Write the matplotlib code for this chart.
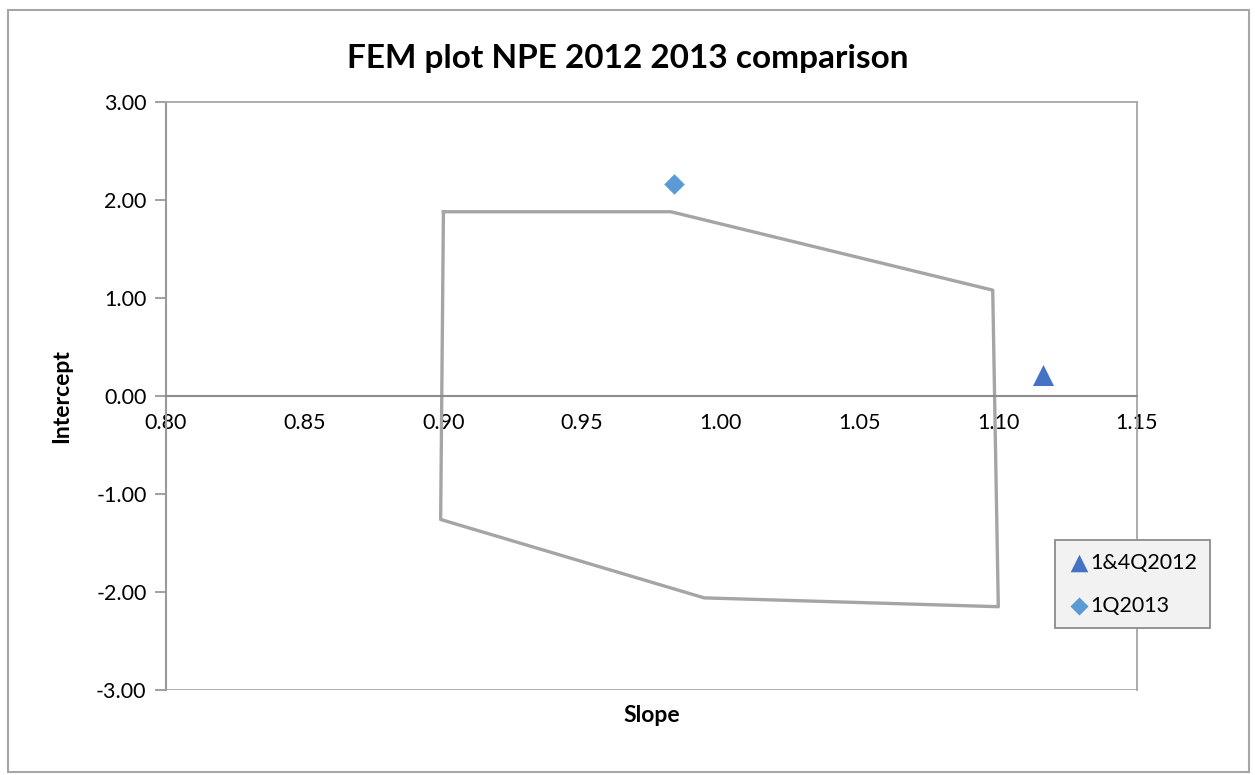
import matplotlib
matplotlib.use("Agg")
import matplotlib.pyplot as plt
from matplotlib.patches import Rectangle

plt.rcParams['font.family'] = ['Lato', 'DejaVu Sans']

# Acceptance region (slope, intercept) outline, closed
region_slope = [0.900, 0.982, 1.098, 1.100, 0.994, 0.899, 0.900]
region_intercept = [1.88, 1.88, 1.08, -2.15, -2.06, -1.26, 1.88]

# Measured points
series_names = ["1&4Q2012", "1Q2013"]
series_slope = [1.116, 0.983]
series_intercept = [0.21, 2.16]

x_ticks = [0.80, 0.85, 0.90, 0.95, 1.00, 1.05, 1.10, 1.15]
y_ticks = [-3.0, -2.0, -1.0, 0.0, 1.0, 2.0, 3.0]

fig = plt.figure(figsize=(12.55, 7.75), dpi=100)
ax = fig.add_axes([166 / 1255, 1 - 690 / 775, 971 / 1255, 588 / 775])

# Outer chart border
fig.patches.append(Rectangle((8 / 1255, 3 / 775), 1241 / 1255, 762 / 775,
                             transform=fig.transFigure, fill=False,
                             edgecolor='#A6A6A6', linewidth=1.5))

ax.plot(region_slope, region_intercept, color='#A5A5A5', linewidth=2.4,
        zorder=2)

ax.scatter([series_slope[0]], [series_intercept[0]], marker='^', s=230,
           color='#4472C4', label=series_names[0], zorder=3, linewidths=0)
ax.scatter([series_slope[1]], [series_intercept[1]], marker='D', s=110,
           color='#5B9BD5', label=series_names[1], zorder=3, linewidths=0)

ax.set_xlim(0.80, 1.15)
ax.set_ylim(-3.0, 3.0)
ax.set_xticks(x_ticks)
ax.set_yticks(y_ticks)
ax.set_xticklabels([f"{v:.2f}" for v in x_ticks])
ax.set_yticklabels([f"{v:.2f}" for v in y_ticks])

# Plot-area frame plus an x axis crossing at intercept 0
for side in ('top', 'right'):
    ax.spines[side].set_color('#A6A6A6')
    ax.spines[side].set_linewidth(1.3)
ax.spines['left'].set_color('#9A9A9A')
ax.spines['left'].set_linewidth(1.5)
ax.spines['bottom'].set_position(('data', 0))
ax.spines['bottom'].set_color('#8C8C8C')
ax.spines['bottom'].set_linewidth(1.5)
ax.axhline(-3.0, color='#A6A6A6', linewidth=1.3, zorder=1)

ax.tick_params(axis='x', length=0, pad=12, labelsize=15.5)
ax.tick_params(axis='y', length=8, width=1.3, color='#9A9A9A', pad=6,
               labelsize=15.5, direction='out')

ax.set_xlabel("Slope", fontsize=16.5, fontweight='bold', labelpad=0)
ax.xaxis.set_label_coords(0.5, -0.025)
ax.set_ylabel("Intercept", fontsize=16.5, fontweight='bold')
ax.yaxis.set_label_coords(-0.097, 0.5)

fig.text(0.5, 0.925, "FEM plot NPE 2012 2013 comparison", ha='center',
         va='center', fontsize=24, fontweight='bold')

leg = ax.legend(loc='upper left', bbox_to_anchor=(0.9155, 0.255),
                borderaxespad=0, fontsize=15.5, frameon=True, fancybox=False,
                handletextpad=0.05, handlelength=1.0, labelspacing=1.05,
                borderpad=0.6, scatterpoints=1)
leg.get_frame().set_facecolor('#F2F2F2')
leg.get_frame().set_edgecolor('#8C8C8C')
leg.get_frame().set_linewidth(1.3)
leg.get_frame().set_alpha(1)
leg.legend_handles[0].set_sizes([160])
leg.legend_handles[1].set_sizes([85])

fig.savefig("out.png", dpi=100)
